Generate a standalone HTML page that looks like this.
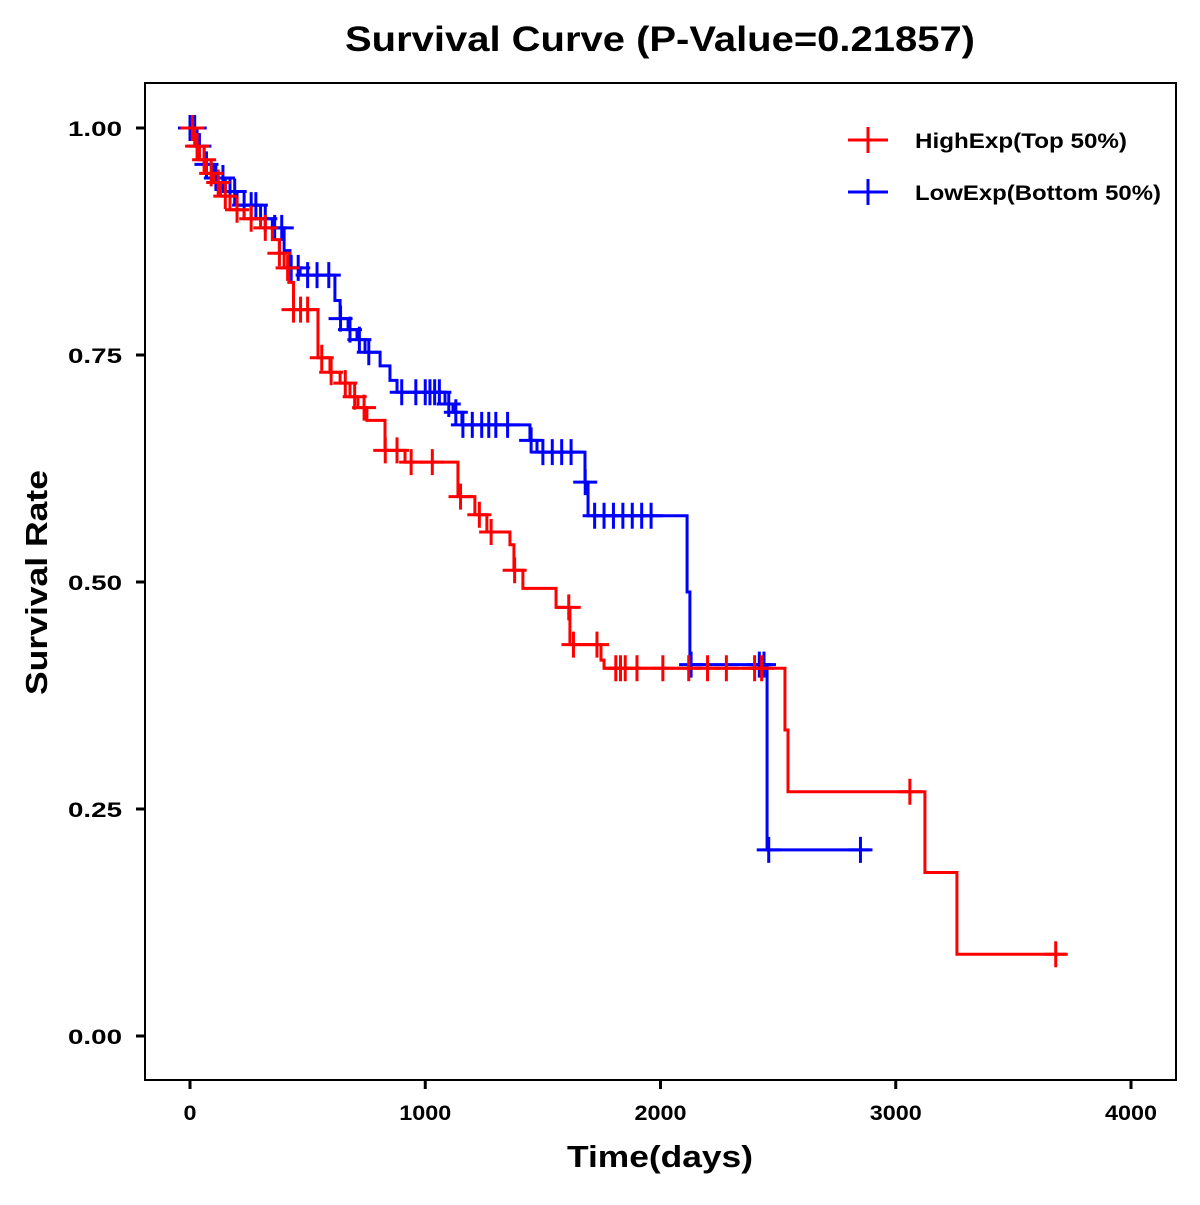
<!DOCTYPE html>
<html><head><meta charset="utf-8"><style>
body{margin:0;background:#fff}
svg text{font-family:"Liberation Sans",Arial,sans-serif;font-weight:bold;fill:#000}
</style></head><body>
<svg id="chart" width="1200" height="1200" viewBox="0 0 1200 1200" xmlns="http://www.w3.org/2000/svg">
<rect x="0" y="0" width="1200" height="1200" fill="#fff"/>
<text x="345" y="51" font-size="35" textLength="630" lengthAdjust="spacingAndGlyphs">Survival Curve (P-Value=0.21857)</text>
<rect x="145" y="83" width="1031" height="997" fill="none" stroke="#000" stroke-width="2"/>
<text x="567" y="1167" font-size="31" textLength="186" lengthAdjust="spacingAndGlyphs">Time(days)</text>
<text transform="translate(47,695) rotate(-90)" font-size="31" textLength="225" lengthAdjust="spacingAndGlyphs">Survival Rate</text>
<g id="axes"></g>
<g id="series"></g>
<g>
<line x1="848" y1="140" x2="888" y2="140" stroke="#f00" stroke-width="3"/><line x1="868" y1="127" x2="868" y2="153" stroke="#f00" stroke-width="3"/>
<text x="915" y="148" font-size="21" textLength="212" lengthAdjust="spacingAndGlyphs">HighExp(Top 50%)</text>
<line x1="848" y1="192" x2="888" y2="192" stroke="#00f" stroke-width="3"/><line x1="868" y1="179" x2="868" y2="205" stroke="#00f" stroke-width="3"/>
<text x="915" y="200" font-size="21" textLength="246" lengthAdjust="spacingAndGlyphs">LowExp(Bottom 50%)</text>
</g>
</svg>
<script>
const xTicks=[0,1000,2000,3000,4000];
const yTicks=[0,0.25,0.5,0.75,1.0];
const yTickLabels=["0.00","0.25","0.50","0.75","1.00"];
const highTimes=[0,20,40,70,100,130,170,230,300,350,380,400,420,440,544,595,638,680,714,752,829,914,1139,1211,1262,1360,1377,1415,1556,1615,1747,1760,2529,2542,3124,3260];
const highSurv=[1.0,0.98,0.965,0.95,0.94,0.925,0.91,0.90,0.89,0.877,0.862,0.846,0.83,0.80,0.747,0.731,0.719,0.704,0.692,0.678,0.645,0.632,0.594,0.574,0.555,0.541,0.513,0.493,0.472,0.431,0.414,0.405,0.337,0.269,0.180,0.090];
const highEnd=3724;
const highCensor=[10,30,60,90,120,150,200,260,320,380,415,440,470,500,560,600,660,700,740,830,880,940,1030,1150,1230,1280,1380,1610,1630,1730,1810,1830,1850,1900,2010,2120,2200,2280,2400,2430,3060,3680];
const lowTimes=[0,30,60,100,150,200,300,350,400,425,468,616,638,672,710,744,808,850,880,1084,1118,1156,1445,1475,1679,1692,2113,2125,2453];
const lowSurv=[1.0,0.98,0.96,0.945,0.93,0.915,0.9,0.89,0.865,0.846,0.838,0.81,0.79,0.778,0.767,0.753,0.738,0.722,0.709,0.696,0.687,0.673,0.656,0.643,0.610,0.573,0.489,0.409,0.205];
const lowEnd=2890;
const lowCensor=[0,10,20,40,70,110,140,170,190,230,260,280,320,360,390,430,460,500,540,590,640,680,720,760,900,960,1000,1020,1040,1060,1100,1130,1160,1200,1240,1270,1300,1350,1450,1500,1540,1580,1620,1680,1720,1760,1800,1840,1880,1920,1960,2130,2420,2440,2460,2850];
const X=t=>190+t*0.23525;
const Y=s=>1036-s*908;
const NS="http://www.w3.org/2000/svg";
function mk(tag,attrs,parent){const e=document.createElementNS(NS,tag);for(const k in attrs)e.setAttribute(k,attrs[k]);parent.appendChild(e);return e;}
const axes=document.getElementById('axes');
xTicks.forEach(t=>{
  const l=mk('line',{x1:X(t),x2:X(t),y1:1080,y2:1089,stroke:'#000','stroke-width':3},axes);
  
  
  const s=String(t);
  const tx=mk('text',{x:X(t),y:1120,'font-size':21,'text-anchor':'middle',textLength:s.length*13,lengthAdjust:'spacingAndGlyphs'},axes);tx.textContent=s;
  
  
});
yTicks.forEach((v,i)=>{
  const l=mk('line',{x1:136,x2:145,y1:Y(v),y2:Y(v),stroke:'#000','stroke-width':3},axes);
  
  
  const tx=mk('text',{x:68,y:Y(v)+8,'font-size':21,textLength:54,lengthAdjust:'spacingAndGlyphs'},axes);tx.textContent=yTickLabels[i];
  
  
});
const series=document.getElementById('series');
function survAt(times,surv,t){let s=surv[0];for(let i=0;i<times.length;i++){if(times[i]<=t)s=surv[i];}return s;}
function draw(times,surv,end,cens,color,name){
  let d='M'+X(times[0])+','+Y(surv[0]);
  for(let i=1;i<times.length;i++){d+=' H'+X(times[i])+' V'+Y(surv[i]);}
  d+=' H'+X(end);
  const p=mk('path',{d:d,fill:'none',stroke:color,'stroke-width':3},series);
  
  
  cens.forEach(t=>{
    const x=X(t),y=Y(survAt(times,surv,t));
    const g=mk('path',{d:`M${x-12},${y} H${x+12} M${x},${y-13} V${y+13}`,stroke:color,'stroke-width':3,fill:'none'},series);
    
    
  });
}
draw(lowTimes,lowSurv,lowEnd,lowCensor,'#00f','low-exp');
draw(highTimes,highSurv,highEnd,highCensor,'#f00','high-exp');
</script>
</body></html>
